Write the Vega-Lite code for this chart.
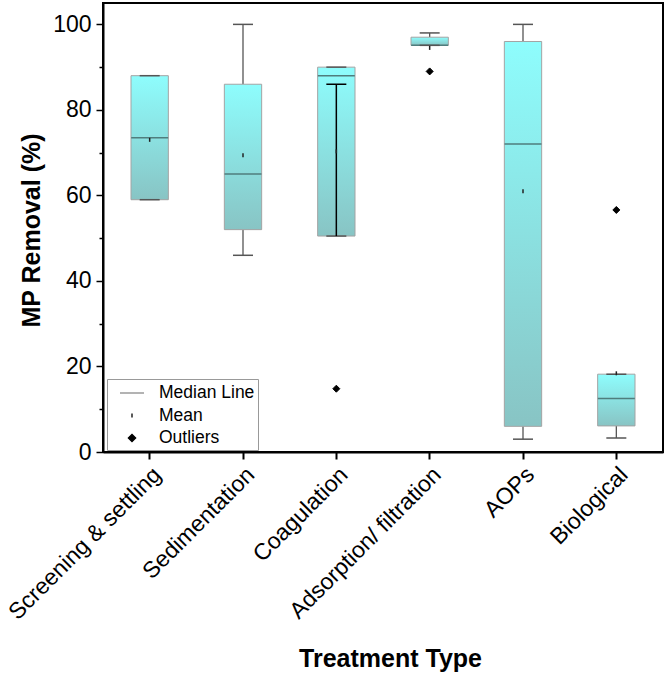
{
  "$schema": "https://vega.github.io/schema/vega-lite/v6.json",
  "width": 560,
  "height": 449,
  "autosize": {"type": "none"},
  "padding": {"left": 103, "top": 3, "right": 3, "bottom": 231},
  "background": "white",
  "config": {
    "view": {"stroke": "black", "strokeWidth": 2},
    "font": "Liberation Sans",
    "axis": {"domainColor": "black", "domainWidth": 2, "tickColor": "black", "labelColor": "black", "titleColor": "black", "grid": false, "labelFont": "Liberation Sans", "titleFont": "Liberation Sans"},
    "legend": {"symbolStrokeWidth": 1.5}
  },
  "datasets": {
    "boxes": [
      {"cat": "Screening & settling", "lo": 59, "q1": 59, "med": 73.5, "q3": 88, "hi": 88, "mean": 73},
      {"cat": "Sedimentation", "lo": 46, "q1": 52, "med": 65, "q3": 86, "hi": 100, "mean": 69.4},
      {"cat": "Coagulation", "lo": 50.5, "q1": 50.5, "med": 88, "q3": 90, "hi": 90, "mean": 70.3},
      {"cat": "Adsorption/ filtration", "lo": 95.1, "q1": 95.1, "med": 95.1, "q3": 97, "hi": 98, "mean": 94.5},
      {"cat": "AOPs", "lo": 3, "q1": 6, "med": 72, "q3": 96, "hi": 100, "mean": 61},
      {"cat": "Biological", "lo": 3.3, "q1": 6.1, "med": 12.5, "q3": 18.2, "hi": 18.2, "mean": 18.4}
    ],
    "outliers": [
      {"cat": "Coagulation", "value": 14.8, "kind": "Outliers"},
      {"cat": "Adsorption/ filtration", "value": 89, "kind": "Outliers"},
      {"cat": "Biological", "value": 56.6, "kind": "Outliers"}
    ],
    "extra": [
      {"cat": "Coagulation", "lo": 50.5, "hi": 86}
    ]
  },
  "encoding": {
    "x": {
      "field": "cat",
      "type": "nominal",
      "sort": ["Screening & settling", "Sedimentation", "Coagulation", "Adsorption/ filtration", "AOPs", "Biological"],
      "scale": {"paddingInner": 0, "paddingOuter": 0},
      "axis": {
        "title": "Treatment Type",
        "titleFontSize": 25,
        "titleFontWeight": "bold",
        "titleX": 287,
        "titleY": 214,
        "titleAlign": "center",
        "titleBaseline": "alphabetic",
        "labelAngle": -45,
        "labelFontSize": 23,
        "tickSize": 7,
        "tickWidth": 2,
        "labelPadding": 4,
        "labelLimit": 400
      }
    }
  },
  "layer": [
    {
      "data": {"name": "boxes"},
      "mark": {"type": "rule", "color": "#555555", "strokeWidth": 1.3},
      "encoding": {
        "y": {
          "field": "lo",
          "type": "quantitative",
          "scale": {"domain": [0, 105], "nice": false, "zero": false},
          "axis": {
            "title": "MP Removal (%)",
            "titleFontSize": 25,
            "titleFontWeight": "bold",
            "titleX": -72,
            "titleY": 227,
            "titleAlign": "center",
            "titleBaseline": "middle",
            "values": [0, 10, 20, 30, 40, 50, 60, 70, 80, 90, 100],
            "labelExpr": "datum.value % 20 === 0 ? datum.label : ''",
            "labelFontSize": 23,
            "labelPadding": 5,
            "tickSize": {"condition": {"test": "datum.value % 20 === 0", "value": 7}, "value": 4},
            "tickWidth": 1.5
          }
        },
        "y2": {"field": "q1"}
      }
    },
    {
      "data": {"name": "boxes"},
      "mark": {"type": "rule", "color": "#555555", "strokeWidth": 1.3},
      "encoding": {
        "y": {"field": "q3", "type": "quantitative", "title": "MP Removal (%)"},
        "y2": {"field": "hi"}
      }
    },
    {
      "data": {"name": "boxes"},
      "mark": {
        "type": "bar",
        "width": {"band": 0.4},
        "fill": {"gradient": "linear", "x1": 0, "y1": 0, "x2": 0, "y2": 1, "stops": [{"offset": 0, "color": "#8efdfd"}, {"offset": 1, "color": "#88c4c4"}]},
        "stroke": "#a3a3a3",
        "strokeWidth": 1
      },
      "encoding": {
        "y": {"field": "q1", "type": "quantitative", "title": "MP Removal (%)"},
        "y2": {"field": "q3"}
      }
    },
    {
      "data": {"name": "boxes"},
      "mark": {"type": "tick", "color": "#4f7d7d", "thickness": 1.5, "size": 37, "opacity": 1},
      "encoding": {
        "y": {"field": "med", "type": "quantitative", "title": "MP Removal (%)"}
      }
    },
    {
      "data": {"name": "boxes"},
      "mark": {"type": "tick", "color": "#555555", "thickness": 1.5, "size": 20, "opacity": 1},
      "encoding": {
        "y": {"field": "lo", "type": "quantitative", "title": "MP Removal (%)"}
      }
    },
    {
      "data": {"name": "boxes"},
      "mark": {"type": "tick", "color": "#555555", "thickness": 1.5, "size": 20, "opacity": 1},
      "encoding": {
        "y": {"field": "hi", "type": "quantitative", "title": "MP Removal (%)"}
      }
    },
    {
      "data": {"name": "extra"},
      "mark": {"type": "rule", "color": "black", "strokeWidth": 1.5},
      "encoding": {
        "y": {"field": "lo", "type": "quantitative", "title": "MP Removal (%)"},
        "y2": {"field": "hi"}
      }
    },
    {
      "data": {"name": "extra"},
      "mark": {"type": "tick", "color": "black", "thickness": 1.5, "size": 20, "opacity": 1},
      "encoding": {
        "y": {"field": "hi", "type": "quantitative", "title": "MP Removal (%)"}
      }
    },
    {
      "data": {"name": "boxes"},
      "mark": {"type": "point", "filled": false, "strokeWidth": 1.5, "size": 400, "opacity": 1},
      "encoding": {
        "y": {"field": "mean", "type": "quantitative", "title": "MP Removal (%)"},
        "shape": {"datum": "Mean", "type": "nominal"},
        "stroke": {"datum": "Mean", "type": "nominal"}
      }
    },
    {
      "data": {"name": "outliers"},
      "mark": {"type": "point", "filled": true, "strokeWidth": 1, "size": 400, "opacity": 1},
      "encoding": {
        "y": {"field": "value", "type": "quantitative", "title": "MP Removal (%)"},
        "fill": {
          "field": "kind",
          "type": "nominal",
          "scale": {"domain": ["Median Line", "Mean", "Outliers"], "range": ["transparent", "transparent", "black"]},
          "legend": {"title": null}
        },
        "stroke": {
          "field": "kind",
          "type": "nominal",
          "scale": {"domain": ["Median Line", "Mean", "Outliers"], "range": ["#9a9a9a", "#222222", "black"]},
          "legend": {"title": null}
        },
        "shape": {
          "field": "kind",
          "type": "nominal",
          "scale": {
            "domain": ["Median Line", "Mean", "Outliers"],
            "range": ["M -1.2 0 L 1.2 0", "M 0 -0.2 L 0 0.2", "M 0 -0.35 L 0.35 0 L 0 0.35 L -0.35 0 Z"]
          },
          "legend": {
            "title": null,
            "orient": "none",
            "legendX": 4,
            "legendY": 376,
            "padding": 3,
            "strokeColor": "#999999",
            "fillColor": "white",
            "symbolSize": 400,
            "symbolOffset": 11,
            "labelOffset": 16,
            "labelFontSize": 17.5,
            "labelFont": "Liberation Sans",
            "labelColor": "black",
            "labelLimit": 300,
            "rowPadding": 2.5
          }
        }
      }
    }
  ]
}
